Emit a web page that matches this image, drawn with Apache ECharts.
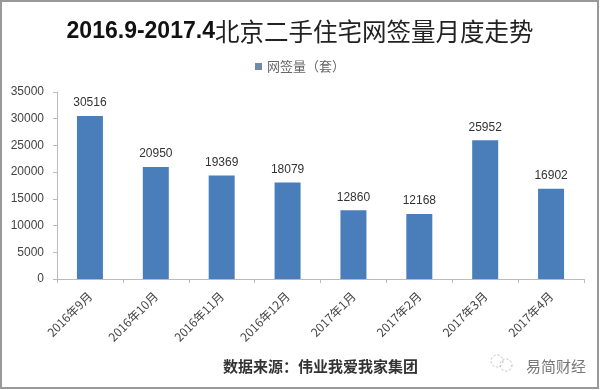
<!DOCTYPE html>
<html>
<head>
<meta charset="utf-8">
<style>
html,body{margin:0;padding:0;background:#fff;}
#chart{width:600px;height:390px;}
</style>
<script src="https://cdn.jsdelivr.net/npm/echarts@6/dist/echarts.min.js"></script>
</head>
<body>
<div id="chart"></div>
<script>
var months = ['2016年9月','2016年10月','2016年11月','2016年12月','2017年1月','2017年2月','2017年3月','2017年4月'];
var signed = [30516,20950,19369,18079,12860,12168,25952,16902];
var seriesName = '网签量（套）';

var chart = echarts.init(document.getElementById('chart'));
var option = {
    animation: false,
    backgroundColor: '#fff',
    textStyle: {fontFamily: '"Noto Sans CJK SC", "Liberation Sans", sans-serif'},
    title: [
        {
            text: '{a|2016.9-2017.4}{b|北京二手住宅网签量月度走势}',
            left: 'center',
            top: 14,
            textStyle: {
                rich: {
                    a: {fontFamily: '"Liberation Sans", sans-serif', fontWeight: 'bold', fontSize: 23, color: '#111'},
                    b: {fontFamily: '"Noto Sans CJK SC", sans-serif', fontWeight: 'normal', fontSize: 24.5, color: '#222'}
                }
            }
        },
        {
            text: '数据来源：伟业我爱我家集团',
            left: 218,
            top: 354,
            textStyle: {fontFamily: '"Noto Sans CJK SC", sans-serif', fontSize: 15, fontWeight: 'bold', color: '#333'}
        },
        {
            text: '易简财经',
            left: 521,
            top: 354,
            textStyle: {fontFamily: '"Noto Sans CJK SC", sans-serif', fontSize: 15, fontWeight: 'normal', color: '#777'}
        }
    ],
    legend: {
        data: [{name: seriesName, icon: 'rect', itemStyle: {color: '#6f8cab'}}],
        top: 55,
        left: 'center',
        itemWidth: 7,
        itemHeight: 7,
        itemGap: 3,
        textStyle: {fontSize: 13, color: '#666'}
    },
    grid: {left: 57, right: 16, top: 92, bottom: 111},
    xAxis: {
        type: 'category',
        data: months,
        axisLine: {lineStyle: {color: '#bbb'}},
        axisTick: {show: true, length: 4, lineStyle: {color: '#bbb'}},
        axisLabel: {rotate: 45, fontSize: 12, color: '#444', margin: 15, interval: 0}
    },
    yAxis: {
        type: 'value',
        min: 0,
        max: 35000,
        interval: 5000,
        axisLine: {show: true, lineStyle: {color: '#bbb'}},
        axisTick: {show: true, length: 4, lineStyle: {color: '#bbb'}},
        axisLabel: {fontSize: 12, color: '#444', fontFamily: '"Liberation Sans", sans-serif', margin: 13,
            formatter: function (v) { return String(v); }},
        splitLine: {show: false}
    },
    series: [{
        name: seriesName,
        type: 'bar',
        data: signed,
        barWidth: 26,
        itemStyle: {color: '#4a7ebb'},
        label: {show: true, position: 'top', distance: 7, fontSize: 12, color: '#333', fontFamily: '"Liberation Sans", sans-serif'}
    }],
    graphic: [
        {type: 'rect', shape: {x: 1, y: 1, width: 597, height: 387}, style: {fill: 'none', stroke: '#999', lineWidth: 2}, silent: true},
        {type: 'circle', shape: {cx: 497, cy: 361, r: 6}, style: {fill: 'none', stroke: '#bbb', lineWidth: 1, lineDash: [2, 2]}, silent: true},
        {type: 'circle', shape: {cx: 506, cy: 365, r: 6}, style: {fill: 'none', stroke: '#bbb', lineWidth: 1, lineDash: [2, 2]}, silent: true}
    ]
};
chart.setOption(option);
</script>
</body>
</html>
